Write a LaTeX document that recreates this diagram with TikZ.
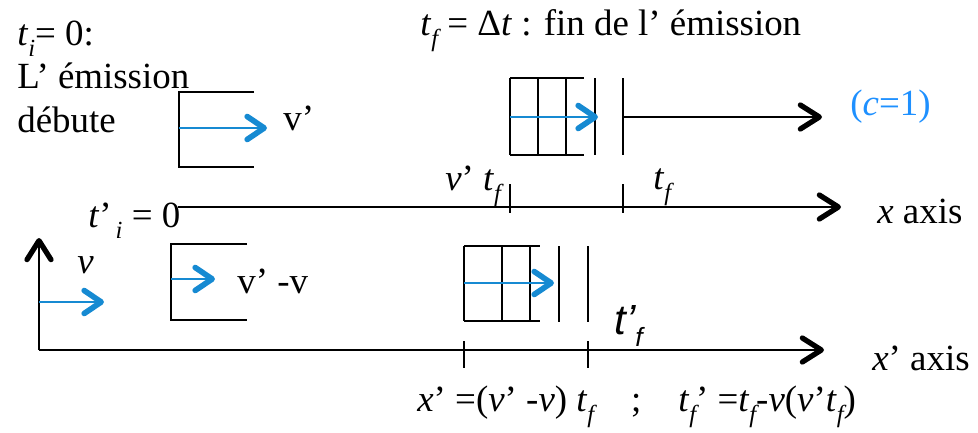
\documentclass[tikz,border=0pt]{standalone}
\usepackage{fontspec}
\setmainfont{Liberation Serif}
\newfontfamily\labelsans{Liberation Sans}
\usetikzlibrary{arrows.meta}

\definecolor{arrowblue}{RGB}{22,138,210}
\definecolor{lightblue}{RGB}{30,144,255}
\newcommand\lo[1]{\raisebox{-0.3em}{\fontsize{14}{14}\selectfont\itshape #1}}
\newcommand\mainsize{\fontsize{21}{25}\selectfont}

\begin{document}
\begin{tikzpicture}[
    x=0.02cm, y=-0.02cm,
    lbl/.style={inner sep=0, anchor=base west, font=\mainsize},
    line/.style={line width=1.1pt},
    arrow/.style={line width=1.1pt, -{Straight Barb[length=0.38cm, width=0.48cm, line width=3pt, round]}},
    bluearrow/.style={arrowblue, line width=1.1pt, -{Straight Barb[length=0.34cm, width=0.46cm, line width=3.2pt, round]}}
]
\useasboundingbox (0,0) rectangle (978,433);

% Frame S: texts
\node[lbl] (tstart) at (17,45) {\textit{t}\lo{i}= 0:};
\node[lbl] (emit) at (17,88) {L’ émission};
\node[lbl] (begins) at (17,132) {débute};
\node[lbl] (tend) at (420,35) {\textit{t}\lo{f} = Δ\textit{t} : fin de l’ émission};

% Emitter at the start
\draw[line] (254,92) -- (179,92) -- (179,167) -- (254,167);
\coordinate (s1) at (179,128);
\coordinate (s1tip) at (267,128);
\draw[bluearrow] (s1) -- (s1tip);
\node[lbl] (vprime) at (283,130) {v’};

% Emitter at the end
\foreach \xx in {510,538,566} \draw[line] (\xx,78) -- (\xx,155);
\draw[line] (510,78) -- (584,78);
\draw[line] (510,155) -- (584,155);
\draw[line] (595,78) -- (595,155);
\draw[line] (623,78) -- (623,155);
\coordinate (s2) at (510,117);
\coordinate (s2tip) at (598,117);
\draw[bluearrow] (s2) -- (s2tip);
\coordinate (front) at (623,117);
\coordinate (fronttip) at (822,117);
\draw[arrow] (front) -- (fronttip);
\node[lbl, text=lightblue] (clight) at (850,115) {(\textit{c}=1)};

% x axis
\coordinate (xo) at (178,207);
\coordinate (xe) at (841,207);
\draw[arrow] (xo) -- (xe);
\draw[line] (510,184) -- (510,213);
\draw[line] (623,184) -- (623,213);
\node[lbl] (vptf) at (445,190) {\textit{v}’ \textit{t}\lo{f}};
\node[lbl] (tf) at (653,189) {\textit{t}\lo{f}};
\node[lbl] (xlbl) at (877,223) {\textit{x} axis};

% Frame S': axes
\node[lbl] (tpi) at (88,227) {\textit{t}’\lo{\,i} = 0};
\coordinate (o) at (39,350);
\coordinate (ytip) at (39,238);
\coordinate (xpe) at (824,350);
\draw[arrow] (o) -- (ytip);
\draw[arrow] (o) -- (xpe);
\coordinate (s3) at (39,302);
\coordinate (s3tip) at (104,302);
\draw[bluearrow] (s3) -- (s3tip);
\node[lbl] (vlbl) at (77,273) {\textit{v}};

% Emitter at the start, seen from S'
\draw[line] (247,244) -- (171,244) -- (171,320) -- (247,320);
\coordinate (s4) at (171,279);
\coordinate (s4tip) at (215,279);
\draw[bluearrow] (s4) -- (s4tip);
\node[lbl] (vrel) at (237,293) {v’ -v};

% Emitter at the end, seen from S'
\foreach \xx in {464,502,530} \draw[line] (\xx,246) -- (\xx,321);
\draw[line] (464,246) -- (540,246);
\draw[line] (464,321) -- (540,321);
\draw[line] (559,246) -- (559,322);
\draw[line] (588,246) -- (588,322);
\coordinate (s5) at (464,283);
\coordinate (s5tip) at (554,283);
\draw[bluearrow] (s5) -- (s5tip);
\node[lbl, font=\fontsize{24}{28}\selectfont\labelsans\itshape] (tpf) at (614,334) {t’\raisebox{-0.3em}{\fontsize{15}{15}\selectfont f}};

% x' axis
\draw[line] (464,341) -- (464,368);
\draw[line] (588,341) -- (588,368);
\node[lbl] (xplbl) at (872,370) {\textit{x}’ axis};
\node[lbl] (formula) at (417,411) {\textit{x}’ =(\textit{v}’ -\textit{v}) \textit{t}\lo{f}\quad ;\quad \textit{t}\lo{f}’ =\textit{t}\lo{f}-\textit{v}(\textit{v}’\textit{t}\lo{f})};

\end{tikzpicture}
\end{document}
